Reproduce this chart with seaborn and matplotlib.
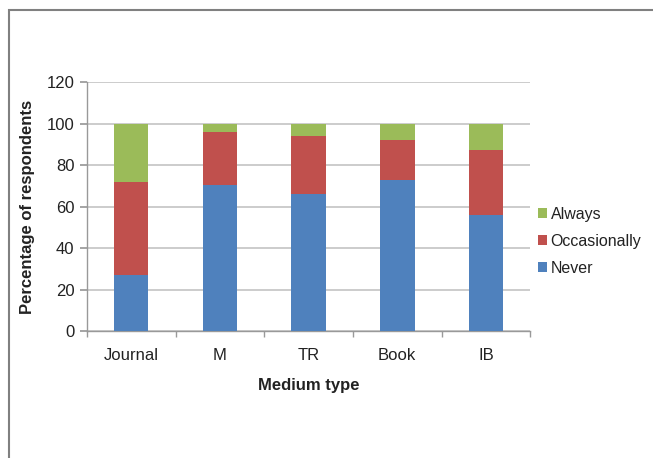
import matplotlib
matplotlib.use("Agg")
import matplotlib.pyplot as plt
from matplotlib.patches import Rectangle, Patch
import numpy as np
import pandas as pd
import seaborn as sns

# Survey responses per medium type (percent of respondents)
media = ["Journal", "M", "TR", "Book", "IB"]
never = [27, 70.5, 66, 73, 56]
occasionally = [45, 25.5, 28, 19, 31]
always = [28, 4, 6, 8, 13]

colors = {"Always": "#9BBB59", "Occasionally": "#C0504D", "Never": "#4F81BD"}

sns.set_theme(style="white")
plt.rcParams["font.family"] = ["Liberation Sans", "DejaVu Sans"]

df = pd.DataFrame({"Medium": media, "Never": never,
                   "Occasionally": occasionally, "Always": always})
df["cum_never"] = df["Never"]
df["cum_occ"] = df["Never"] + df["Occasionally"]
df["cum_all"] = df["cum_occ"] + df["Always"]

fig = plt.figure(figsize=(6.53, 4.58), dpi=100)
ax = fig.add_axes([0.133, 0.277, 0.679, 0.544])

# Stacked bars drawn as overlapping cumulative totals, tallest first
for col, name in [("cum_all", "Always"), ("cum_occ", "Occasionally"), ("cum_never", "Never")]:
    sns.barplot(data=df, x="Medium", y=col, color=colors[name], saturation=1,
                width=0.39, linewidth=0, edgecolor="none", ax=ax, zorder=3)

ax.set_ylim(0, 120)
ax.set_xlim(-0.5, len(media) - 0.5)
ax.set_yticks(np.arange(0, 121, 20))
ax.yaxis.grid(True, color="#BFBFBF", linewidth=1.1, zorder=0)
ax.set_axisbelow(True)

for s in ["top", "right"]:
    ax.spines[s].set_visible(False)
for s in ["left", "bottom"]:
    ax.spines[s].set_color("#999999")
    ax.spines[s].set_linewidth(1.0)

# Category boundary ticks on the x axis
ax.set_xticks(np.arange(-0.5, len(media), 1.0), minor=True)
ax.tick_params(axis="x", which="major", length=0, labelsize=12, colors="#222222", pad=12)
ax.tick_params(axis="x", which="minor", length=4, color="#999999", direction="out", bottom=True)
ax.tick_params(axis="y", length=5, color="#999999", direction="out", left=True,
               labelsize=12, labelcolor="#222222", pad=4)

ax.set_xlabel("Medium type", fontsize=12, fontweight="bold", color="#222222", labelpad=11)
ax.set_ylabel("Percentage of respondents", fontsize=12, fontweight="bold",
              color="#222222", labelpad=8)

handles = [Patch(facecolor=colors[n], edgecolor="none") for n in ["Always", "Occasionally", "Never"]]
ax.legend(handles, ["Always", "Occasionally", "Never"], loc="center left",
          bbox_to_anchor=(0.985, 0.36), frameon=False, fontsize=11.5,
          handlelength=0.55, handleheight=0.55, handletextpad=0.25, labelspacing=0.75,
          labelcolor="#222222")

# Outer frame around the chart area
fig.add_artist(Rectangle((9 / 653, -0.1), 1.2, (458 - 10) / 458 + 0.1,
                         transform=fig.transFigure, fill=False,
                         edgecolor="#808080", linewidth=1.5))

fig.savefig("out.png", dpi=100)
